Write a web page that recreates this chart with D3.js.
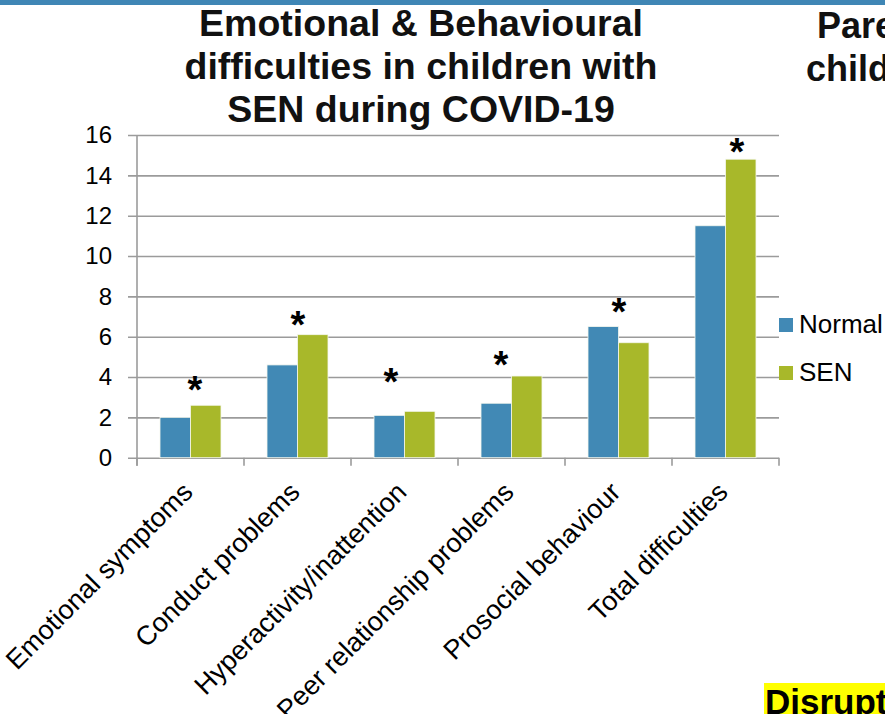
<!DOCTYPE html>
<html>
<head>
<meta charset="utf-8">
<script src="https://cdn.jsdelivr.net/npm/d3@7/dist/d3.min.js"></script>
<style>
  html, body { margin: 0; padding: 0; background: #fff; overflow: hidden; }
  svg { display: block; font-family: "Liberation Sans", Arial, sans-serif; }
</style>
</head>
<body>
<svg id="chart" width="885" height="714"></svg>
<script>
// SDQ subscale scores during COVID-19
const categories = [
  "Emotional symptoms",
  "Conduct problems",
  "Hyperactivity/inattention",
  "Peer relationship problems",
  "Prosocial behaviour",
  "Total difficulties"
];
const seriesNames = ["Normal", "SEN"];
const normalScores = [2.0, 4.6, 2.1, 2.7, 6.5, 11.5];
const senScores = [2.6, 6.1, 2.3, 4.05, 5.7, 14.8];
const yTickValues = [0, 2, 4, 6, 8, 10, 12, 14, 16];
// significance marker height for each group, in score units
const starLevels = [3.75, 6.98, 4.15, 4.99, 7.6, 15.55];
const titleLines = ["Emotional & Behavioural", "difficulties in children with", "SEN during COVID-19"];

const colors = { Normal: "#4189b5", SEN: "#a8b82a" };
const gridColor = "#9b9b9b";

const svg = d3.select("#chart");
const W = 885, H = 714;
const plot = { left: 137, right: 779, top: 135, bottom: 457.7 };

// slide header strip
svg.append("rect").attr("x", 0).attr("y", 0).attr("width", W).attr("height", 5).attr("fill", "#3f86b5");

// neighbouring slide heading (runs past the slide edge)
const side = svg.append("text").attr("font-weight", "bold").attr("font-size", 36).attr("fill", "#111");
side.append("tspan").attr("x", 817).attr("y", 38).text("Parents");
side.append("tspan").attr("x", 806).attr("y", 81).text("children");

// chart title
const title = svg.append("text")
  .attr("text-anchor", "middle")
  .attr("font-weight", "bold")
  .attr("font-size", 37.5)
  .attr("fill", "#111");
titleLines.forEach((line, i) => {
  title.append("tspan").attr("x", 421).attr("y", 36 + i * 43).text(line);
});

const y = d3.scaleLinear().domain([0, 16]).range([plot.bottom, plot.top]);
const x = d3.scaleBand().domain(categories).range([plot.left, plot.right])
  .paddingInner(0.43).paddingOuter(0.215);
const xs = d3.scaleBand().domain(seriesNames).range([0, x.bandwidth()]);

// y axis with gridlines
const yAxis = svg.append("g")
  .attr("transform", `translate(${plot.left},0)`)
  .call(d3.axisLeft(y).tickValues(yTickValues).tickSize(-(plot.right - plot.left)).tickPadding(25));
yAxis.select(".domain").remove();
yAxis.selectAll(".tick line")
  .attr("x1", -9)
  .attr("stroke", gridColor)
  .attr("stroke-width", 1.6);
yAxis.selectAll(".tick text")
  .attr("font-size", 24)
  .attr("fill", "#000")
  .attr("font-family", "Liberation Sans, Arial, sans-serif");

// vertical axis line
svg.append("line")
  .attr("x1", plot.left).attr("x2", plot.left)
  .attr("y1", plot.top).attr("y2", plot.bottom + 8)
  .attr("stroke", gridColor).attr("stroke-width", 1.6);

// category boundary ticks on the x axis
const boundaries = categories.map(c => x(c) - x.step() * x.paddingInner() / 2);
boundaries.push(plot.right);
boundaries[0] = plot.left;
svg.append("g").selectAll("line").data(boundaries).join("line")
  .attr("x1", d => d).attr("x2", d => d)
  .attr("y1", plot.bottom).attr("y2", plot.bottom + 8)
  .attr("stroke", gridColor).attr("stroke-width", 1.6);

// bars
const rows = categories.map((c, i) => ({ category: c, values: [
  { series: "Normal", value: normalScores[i] },
  { series: "SEN", value: senScores[i] }
]}));
const groups = svg.append("g").selectAll("g").data(rows).join("g")
  .attr("transform", d => `translate(${x(d.category)},0)`);
groups.selectAll("rect").data(d => d.values).join("rect")
  .attr("x", d => xs(d.series))
  .attr("width", xs.bandwidth())
  .attr("y", d => y(d.value))
  .attr("height", d => y(0) - y(d.value))
  .attr("fill", d => colors[d.series])
  .attr("stroke", "#f4f7ee")
  .attr("stroke-width", 0.8);

// significance asterisks
const starNudge = [4.5, 0.5, -13.5, -10.5, 0.5, 11.5];
svg.append("g").selectAll("text").data(categories).join("text")
  .attr("x", (c, i) => x(c) + x.bandwidth() / 2 + starNudge[i])
  .attr("y", (c, i) => y(starLevels[i]) + 21)
  .attr("text-anchor", "middle")
  .attr("font-size", 38)
  .attr("font-weight", "bold")
  .attr("fill", "#000")
  .text("*");

// rotated category labels
svg.append("g").selectAll("text").data(categories).join("text")
  .attr("transform", c => `translate(${x(c) + x.bandwidth() / 2 - 3},${487}) rotate(-45)`)
  .attr("text-anchor", "end")
  .attr("dy", "0.35em")
  .attr("font-size", 27)
  .attr("fill", "#000")
  .text(c => c);

// legend
const legend = svg.append("g").attr("transform", "translate(779,318)");
const li = legend.selectAll("g").data(seriesNames).join("g")
  .attr("transform", (d, i) => `translate(0,${i * 48})`);
li.append("rect").attr("width", 14).attr("height", 14).attr("fill", d => colors[d]);
li.append("text").attr("x", 20).attr("y", 15).attr("font-size", 26).attr("fill", "#000").text(d => d);

// highlighted heading at the slide foot
svg.append("rect").attr("x", 764).attr("y", 683).attr("width", 130).attr("height", 40).attr("fill", "#ffff00");
svg.append("text").attr("x", 765).attr("y", 714).attr("font-size", 35).attr("font-weight", "bold")
  .attr("fill", "#000").text("Disruption");
</script>
</body>
</html>
